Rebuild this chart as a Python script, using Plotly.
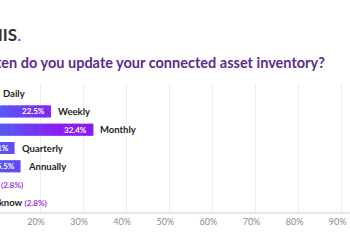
import numpy as np
import plotly.graph_objects as go

categories = ["Daily", "Weekly", "Monthly", "Quarterly", "Annually", "Never", "Don't know"]
values = [9.9, 22.5, 32.4, 14.1, 15.5, 2.8, 2.8]
tick_vals = [10, 20, 30, 40, 50, 60, 70, 80, 90, 100]
tick_text = [f"{v}%" for v in tick_vals]
title_text = "How often do you update your connected asset inventory?"
logo_text = "ARMIS"

X_RANGE = [10.72, 91.93]
BLUE = np.array([0x50, 0x62, 0xF4])
PURPLE = np.array([0x8A, 0x1E, 0xF2])


def grad_color(xp):
    t = np.clip((xp - 9.0) / (24.0 - 9.0), 0, 1)
    c = BLUE + (PURPLE - BLUE) * t
    return "rgb(%d,%d,%d)" % tuple(c.astype(int))


def to_paper(v):
    return (v - X_RANGE[0]) / (X_RANGE[1] - X_RANGE[0])


ys, bases, widths, cols = [], [], [], []
step = 0.4
for cat, v in zip(categories, values):
    n = int(np.ceil(v / step))
    edges = np.linspace(0, v, n + 1)
    for a, b in zip(edges[:-1], edges[1:]):
        ys.append(cat)
        bases.append(a)
        widths.append(min(b - a + 0.06, v - a))
        cols.append(grad_color((a + b) / 2))

fig = go.Figure()
fig.add_trace(go.Bar(
    y=ys, x=widths, base=bases, orientation="h",
    marker=dict(color=cols, line=dict(width=0)),
    hoverinfo="skip", showlegend=False,
))

annotations = []
for cat, v in zip(categories, values):
    if v >= 5:
        annotations.append(dict(
            x=to_paper(v), y=cat, xref="paper", yref="y", xanchor="right", xshift=-4,
            text=f"{v}%", showarrow=False,
            font=dict(family="Lato", size=8, color="white", weight="bold"),
        ))
        label = f"<b>{cat}</b>"
    else:
        label = (f"<b>{cat}</b> <span style='color:#9a32e6;font-size:8px'>"
                 f"<b>({v}%)</b></span>")
    annotations.append(dict(
        x=to_paper(v), y=cat, xref="paper", yref="y", xanchor="left", xshift=5,
        text=label, showarrow=False,
        font=dict(family="Lato", size=9.5, color="#1e1e1e"),
    ))

H, T, B = 250, 84, 38
ph = H - T - B
annotations.append(dict(
    x=327 / 350, y=(H - B - 62) / ph, xref="paper", yref="paper",
    yanchor="middle", xanchor="right",
    text=title_text, showarrow=False,
    font=dict(family="Lato", size=14.5, color="#5a2d91", weight="bold"),
))
annotations.append(dict(
    x=23 / 350, y=(H - B - 34) / ph, xref="paper", yref="paper",
    xanchor="right", yanchor="middle",
    text=f"<b>{logo_text}</b><span style='color:#8a2be2'>.</span>", showarrow=False,
    font=dict(family="Lato", size=17, color="#333333"),
))

fig.update_layout(
    width=350, height=250,
    margin=dict(l=0, r=0, t=T, b=B),
    paper_bgcolor="white", plot_bgcolor="white",
    bargap=0.34, barmode="overlay",
    annotations=annotations,
    xaxis=dict(
        range=X_RANGE, tickvals=tick_vals, ticktext=tick_text,
        showgrid=True, gridcolor="#eeeeee", gridwidth=1,
        zeroline=False, showline=True, linecolor="#e6e6e6", linewidth=2,
        ticks="", tickfont=dict(family="Lato", size=9, color="#8c8c8c"),
        ticklabelshift=-4, fixedrange=True,
    ),
    yaxis=dict(
        categoryorder="array", categoryarray=categories, autorange="reversed",
        showticklabels=False, showgrid=False, zeroline=False, showline=False,
        ticks="", fixedrange=True,
    ),
)

fig.write_html("out.html", config={"displayModeBar": False})
